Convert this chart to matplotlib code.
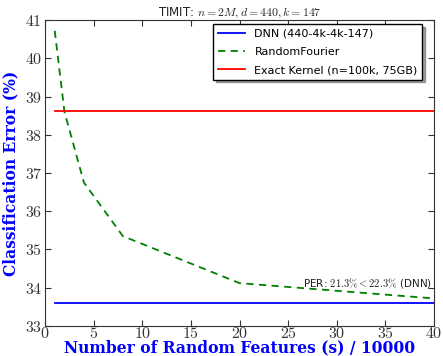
import matplotlib
matplotlib.use('Agg')
import matplotlib.pyplot as plt
from matplotlib.ticker import FuncFormatter

plt.rcParams['mathtext.fontset'] = 'cm'

# data
rf_x = [1, 2, 4, 8, 20, 40]
rf_err = [40.72, 38.6, 36.75, 35.35, 34.12, 33.72]
dnn_x = [1, 40]
dnn_err = [33.6, 33.6]
exact_x = [1, 40]
exact_err = [38.62, 38.62]

fig = plt.figure(figsize=(4.43, 3.56), dpi=100)
ax = fig.add_axes([0.1016, 0.0843, 0.8784, 0.8595])

ax.plot(dnn_x, dnn_err, color='blue', lw=1.3, label='DNN (440-4k-4k-147)')
ax.plot(rf_x, rf_err, color='green', lw=1.3, ls='--', dashes=(4, 3), label='RandomFourier')
ax.plot(exact_x, exact_err, color='red', lw=1.3, label='Exact Kernel (n=100k, 75GB)')

ax.set_xlim(0, 40)
ax.set_ylim(33, 41)
ax.set_xticks(range(0, 41, 5))
ax.set_yticks(range(33, 42))
fmt = FuncFormatter(lambda v, p: r'$%d$' % v)
ax.xaxis.set_major_formatter(fmt)
ax.yaxis.set_major_formatter(fmt)
ax.tick_params(direction='in', top=True, right=True, labelsize=11.5, length=4, color='#333333', labelcolor='#333333')
ax.tick_params(axis='x', pad=0)
ax.tick_params(axis='y', pad=2)
for s in ax.spines.values():
    s.set_color('#333333')

ax.set_xlabel('Number of Random Features (s) / 10000', fontsize=11.2, fontweight='bold',
              family='DejaVu Serif', color='blue', labelpad=-1)
ax.set_ylabel('Classification Error (%)', fontsize=11.2, fontweight='bold',
              family='DejaVu Serif', color='blue', labelpad=4)
ax.set_title(r'TIMIT: $n=2M, d=440, k=147$', fontsize=8.5, pad=3, color='#222222')

ax.text(39.8, 33.93, r'PER: $21.3\% < 22.3\%$ (DNN)', fontsize=7.5, ha='right', va='bottom', color='#222222')

ax.legend(loc='upper right', bbox_to_anchor=(0.969, 0.987), borderaxespad=0,
          fontsize=8, shadow=True, fancybox=False, framealpha=1,
          edgecolor='black', handlelength=2.5, labelspacing=0.75)

fig.savefig('out.png', dpi=100)
